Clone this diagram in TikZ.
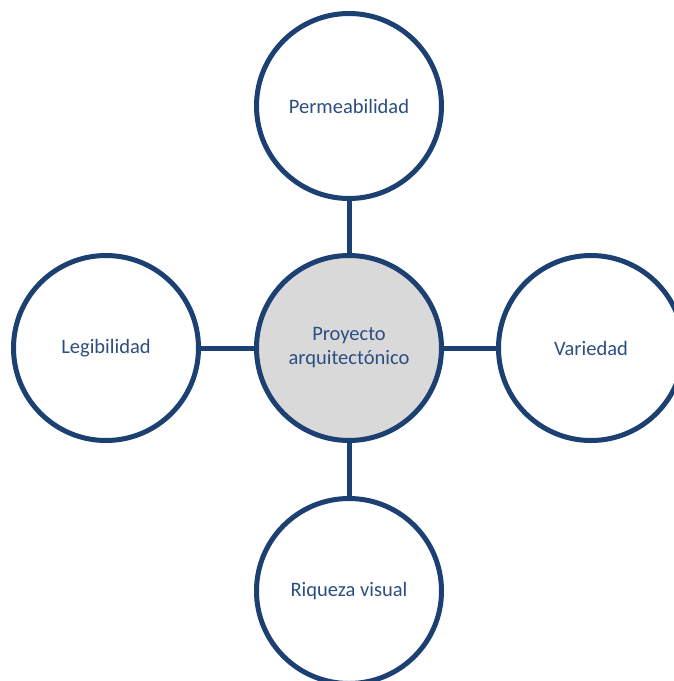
\documentclass[tikz,border=0pt]{standalone}
\usepackage{fontspec}
\setmainfont{Carlito}
\usepackage{tikz}
\definecolor{ringblue}{RGB}{28,64,114}
\definecolor{textblue}{RGB}{44,78,128}
\definecolor{hubgray}{RGB}{217,217,217}

\begin{document}
\begin{tikzpicture}[x=1pt,y=1pt,
    idea/.style={circle,draw=ringblue,line width=5pt,fill=white,minimum size=185pt,
      inner sep=0pt,align=center,text=textblue,font=\fontsize{20.5}{24}\selectfont},
    hub/.style={idea,fill=hubgray},
    link/.style={draw=ringblue,line width=5pt}]
          \useasboundingbox (0,0) rectangle (674,-681);
          \node [hub] (proyecto) at (349,-348) {Proyecto\\arquitect\'onico};
          \node [idea] (perm) at (349,-106) {Permeabilidad};
          \node [idea] (legi) at (106,-348) {Legibilidad};
          \node [idea] (vari) at (591,-348) {Variedad};
          \node [idea] (riq) at (349,-591) {Riqueza visual};
          \draw [link] (proyecto) -- (perm);
          \draw [link] (proyecto) -- (legi);
          \draw [link] (proyecto) -- (vari);
          \draw [link] (proyecto) -- (riq);
          \end{tikzpicture}
\end{document}
